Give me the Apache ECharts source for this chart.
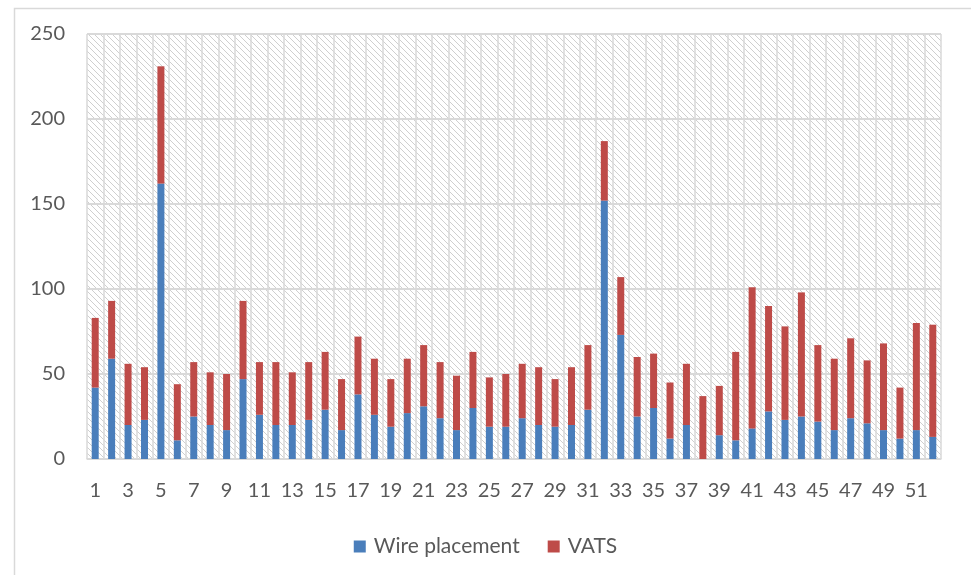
<!DOCTYPE html>
<html>
<head>
<meta charset="utf-8">
<script src="https://cdn.jsdelivr.net/npm/echarts@6/dist/echarts.min.js"></script>
<style>html,body{margin:0;padding:0;background:#fff}#c{width:971px;height:575px}</style>
</head>
<body>
<div id="c"></div>
<script>
const categories = Array.from({length: 52}, (_, i) => String(i + 1));
const wirePlacement = [42,59,20,23,162,11,25,20,17,47,26,20,20,23,29,17,38,26,19,27,31,24,17,30,19,19,24,20,19,20,29,152,73,25,30,12,20,0,14,11,18,28,23,25,22,17,24,21,17,12,17,13];
const vats = [41,34,36,31,69,33,32,31,33,46,31,37,31,34,34,30,34,33,28,32,36,33,32,33,29,31,32,34,28,34,38,35,34,35,32,33,36,37,29,52,83,62,55,73,45,42,47,37,51,30,63,66];
const yTicks = {min: 0, max: 250, interval: 50};

const pc = document.createElement('canvas');
pc.width = 6; pc.height = 6;
const ctx = pc.getContext('2d');
ctx.fillStyle = '#ffffff';
ctx.fillRect(0, 0, 6, 6);
ctx.strokeStyle = '#cfcfcf';
ctx.lineWidth = 1;
ctx.beginPath();
ctx.moveTo(-1, -1); ctx.lineTo(7, 7);
ctx.moveTo(-7, -1); ctx.lineTo(1, 7);
ctx.moveTo(5, -1); ctx.lineTo(13, 7);
ctx.stroke();

const chart = echarts.init(document.getElementById('c'), null, {renderer: 'canvas'});
const font = 'Lato, "Open Sans", sans-serif';
chart.setOption({
  animation: false,
  backgroundColor: '#ffffff',
  graphic: [{
    type: 'rect', left: 12, top: 6, z: -10,
    shape: {width: 1000, height: 600},
    style: {fill: 'none', stroke: '#d9d9d9', lineWidth: 1.5}
  }],
  grid: {
    left: 87, right: 30, top: 34, bottom: 116,
    show: true, borderWidth: 0,
    backgroundColor: {image: pc, repeat: 'repeat'}
  },
  legend: {
    top: 531, left: 'center',
    icon: 'rect', itemWidth: 12, itemHeight: 12, itemGap: 28,
    textStyle: {color: '#595959', fontSize: 21, fontFamily: font, padding: [0, 0, 0, 3]},
    data: ['Wire placement', 'VATS']
  },
  xAxis: {
    type: 'category', data: categories,
    axisLine: {show: true, lineStyle: {color: '#d9d9d9', width: 1.5}},
    axisTick: {show: false},
    axisLabel: {interval: 1, color: '#595959', fontSize: 20, fontFamily: font, margin: 22},
    splitLine: {show: true, interval: 0, lineStyle: {color: '#d9d9d9', width: 1.5}}
  },
  yAxis: {
    type: 'value', min: yTicks.min, max: yTicks.max, interval: yTicks.interval,
    axisLine: {show: false}, axisTick: {show: false},
    axisLabel: {color: '#595959', fontSize: 20, fontFamily: font, margin: 22},
    splitLine: {show: true, lineStyle: {color: '#d9d9d9', width: 2}}
  },
  series: [
    {name: 'Wire placement', type: 'bar', stack: 'a', data: wirePlacement, barWidth: 7, itemStyle: {color: '#4a7ebb'}},
    {name: 'VATS', type: 'bar', stack: 'a', data: vats, barWidth: 7, itemStyle: {color: '#be4b48'}}
  ]
});
</script>
</body>
</html>
